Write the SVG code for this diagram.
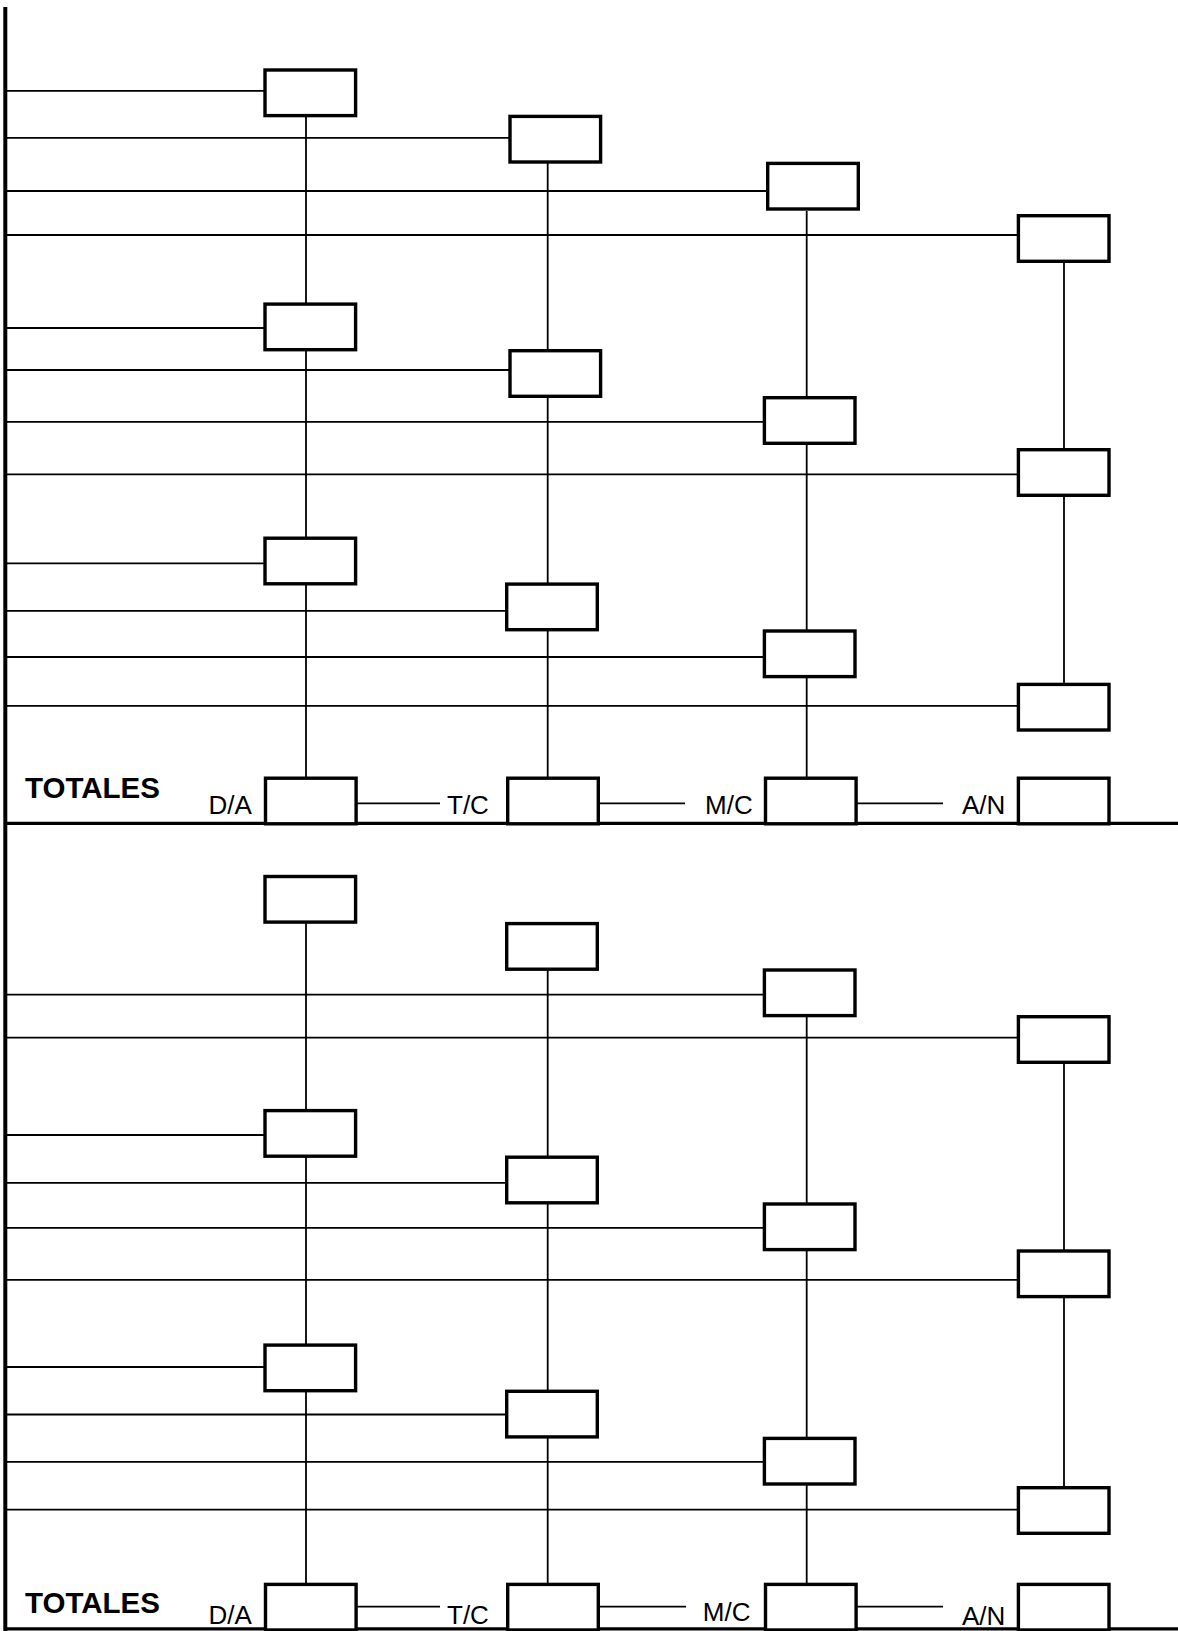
<svg xmlns="http://www.w3.org/2000/svg" width="1178" height="1631" viewBox="0 0 1178 1631">
<style>
.frame{stroke:#000;stroke-width:3.2;fill:none}
.c{stroke:#000;stroke-width:1.8;fill:none}
.box{fill:#fff;stroke:#000;stroke-width:3.4}
.lbl{font-family:"Liberation Sans",Arial,sans-serif;font-size:26px;fill:#000}
.tot{font-family:"Liberation Sans",Arial,sans-serif;font-size:30px;font-weight:bold;fill:#000}
</style>
<rect width="1178" height="1631" fill="#fff"/>
<g id="frame">
<line class="frame" x1="5.3" y1="7" x2="5.3" y2="1631" style="stroke-width:4"/>
<line class="frame" x1="5" y1="823.3" x2="1178" y2="823.3"/>
<line class="frame" x1="5" y1="1628.8" x2="1178" y2="1628.8"/>
</g>
<g id="connectors">
<!-- vertical columns top -->
<line class="c" x1="306" y1="117" x2="306" y2="777"/>
<line class="c" x1="547.7" y1="163" x2="547.7" y2="777"/>
<line class="c" x1="806.7" y1="211" x2="806.7" y2="777"/>
<line class="c" x1="1064" y1="263" x2="1064" y2="684"/>
<!-- vertical columns bottom -->
<line class="c" x1="306" y1="923" x2="306" y2="1583"/>
<line class="c" x1="547.7" y1="970" x2="547.7" y2="1583"/>
<line class="c" x1="806.7" y1="1017" x2="806.7" y2="1583"/>
<line class="c" x1="1064" y1="1064" x2="1064" y2="1488"/>
<!-- horizontals top -->
<line class="c" x1="7" y1="90.8" x2="264" y2="90.8"/>
<line class="c" x1="7" y1="137.8" x2="509" y2="137.8"/>
<line class="c" x1="7" y1="191" x2="767" y2="191"/>
<line class="c" x1="7" y1="235" x2="1017" y2="235"/>
<line class="c" x1="7" y1="328" x2="264" y2="328"/>
<line class="c" x1="7" y1="370" x2="509" y2="370"/>
<line class="c" x1="7" y1="421.8" x2="763" y2="421.8"/>
<line class="c" x1="7" y1="474.3" x2="1017" y2="474.3"/>
<line class="c" x1="7" y1="563.4" x2="264" y2="563.4"/>
<line class="c" x1="7" y1="610.9" x2="506" y2="610.9"/>
<line class="c" x1="7" y1="657" x2="763" y2="657"/>
<line class="c" x1="7" y1="705.8" x2="1017" y2="705.8"/>
<!-- horizontals bottom -->
<line class="c" x1="7" y1="994.6" x2="763" y2="994.6"/>
<line class="c" x1="7" y1="1037.6" x2="1017" y2="1037.6"/>
<line class="c" x1="7" y1="1135" x2="264" y2="1135"/>
<line class="c" x1="7" y1="1182.9" x2="506" y2="1182.9"/>
<line class="c" x1="7" y1="1227.8" x2="763" y2="1227.8"/>
<line class="c" x1="7" y1="1279.8" x2="1017" y2="1279.8"/>
<line class="c" x1="7" y1="1367" x2="264" y2="1367"/>
<line class="c" x1="7" y1="1414.5" x2="506" y2="1414.5"/>
<line class="c" x1="7" y1="1461.8" x2="763" y2="1461.8"/>
<line class="c" x1="7" y1="1509.7" x2="1017" y2="1509.7"/>
<!-- totals links -->
<line class="c" x1="357" y1="803.3" x2="440" y2="803.3"/>
<line class="c" x1="600" y1="803.3" x2="685" y2="803.3"/>
<line class="c" x1="857" y1="803.3" x2="943" y2="803.3"/>
<line class="c" x1="357" y1="1606.7" x2="440" y2="1606.7"/>
<line class="c" x1="600" y1="1606.7" x2="686" y2="1606.7"/>
<line class="c" x1="857" y1="1606.7" x2="943" y2="1606.7"/>
</g>
<!-- top half boxes -->
<g id="da1"><rect class="box" x="265" y="70" width="90.6" height="45.6"/></g>
<g id="tc1"><rect class="box" x="510" y="116.4" width="90.6" height="45.6"/></g>
<g id="mc1"><rect class="box" x="767.7" y="163.4" width="90.6" height="45.6"/></g>
<g id="an1"><rect class="box" x="1018.4" y="215.7" width="90.6" height="45.6"/></g>
<g id="da2"><rect class="box" x="265" y="304.1" width="90.6" height="45.6"/></g>
<g id="tc2"><rect class="box" x="510" y="350.7" width="90.6" height="45.6"/></g>
<g id="mc2"><rect class="box" x="764.4" y="397.7" width="90.6" height="45.6"/></g>
<g id="an2"><rect class="box" x="1018.4" y="449.7" width="90.6" height="45.6"/></g>
<g id="da3"><rect class="box" x="265" y="538.2" width="90.6" height="45.6"/></g>
<g id="tc3"><rect class="box" x="506.7" y="584.1" width="90.6" height="45.6"/></g>
<g id="mc3"><rect class="box" x="764.4" y="631" width="90.6" height="45.6"/></g>
<g id="an3"><rect class="box" x="1018.4" y="684.4" width="90.6" height="45.6"/></g>
<g id="da-total1"><rect class="box" x="265.5" y="778.2" width="90.6" height="45.6"/></g>
<g id="tc-total1"><rect class="box" x="507.7" y="778.2" width="90.6" height="45.6"/></g>
<g id="mc-total1"><rect class="box" x="765.5" y="778.2" width="90.6" height="45.6"/></g>
<g id="an-total1"><rect class="box" x="1018.4" y="778.2" width="90.6" height="45.6"/></g>
<!-- bottom half boxes -->
<g id="da4"><rect class="box" x="265" y="876.5" width="90.6" height="45.6"/></g>
<g id="tc4"><rect class="box" x="506.7" y="923.6" width="90.6" height="45.6"/></g>
<g id="mc4"><rect class="box" x="764.4" y="970" width="90.6" height="45.6"/></g>
<g id="an4"><rect class="box" x="1018.4" y="1016.7" width="90.6" height="45.6"/></g>
<g id="da5"><rect class="box" x="265" y="1110.6" width="90.6" height="45.6"/></g>
<g id="tc5"><rect class="box" x="506.7" y="1157.2" width="90.6" height="45.6"/></g>
<g id="mc5"><rect class="box" x="764.4" y="1204" width="90.6" height="45.6"/></g>
<g id="an5"><rect class="box" x="1018.4" y="1251" width="90.6" height="45.6"/></g>
<g id="da6"><rect class="box" x="265" y="1345.1" width="90.6" height="45.6"/></g>
<g id="tc6"><rect class="box" x="506.7" y="1391.3" width="90.6" height="45.6"/></g>
<g id="mc6"><rect class="box" x="764.4" y="1438.4" width="90.6" height="45.6"/></g>
<g id="an6"><rect class="box" x="1018.4" y="1487.7" width="90.6" height="45.6"/></g>
<g id="da-total2"><rect class="box" x="265.5" y="1584.4" width="90.6" height="45.6"/></g>
<g id="tc-total2"><rect class="box" x="507.7" y="1584.4" width="90.6" height="45.6"/></g>
<g id="mc-total2"><rect class="box" x="765.5" y="1584.4" width="90.6" height="45.6"/></g>
<g id="an-total2"><rect class="box" x="1018.4" y="1584.4" width="90.6" height="45.6"/></g>
<g id="labels">
<text class="tot" x="25" y="798.3" textLength="135" lengthAdjust="spacingAndGlyphs">TOTALES</text>
<text class="lbl" x="208.6" y="814">D/A</text>
<text class="lbl" x="447" y="814">T/C</text>
<text class="lbl" x="705" y="814">M/C</text>
<text class="lbl" x="962" y="814">A/N</text>
<text class="tot" x="25" y="1612.7" textLength="135" lengthAdjust="spacingAndGlyphs">TOTALES</text>
<text class="lbl" x="208.6" y="1624">D/A</text>
<text class="lbl" x="447" y="1624">T/C</text>
<text class="lbl" x="702.8" y="1621">M/C</text>
<text class="lbl" x="962" y="1625">A/N</text>
</g>
</svg>
